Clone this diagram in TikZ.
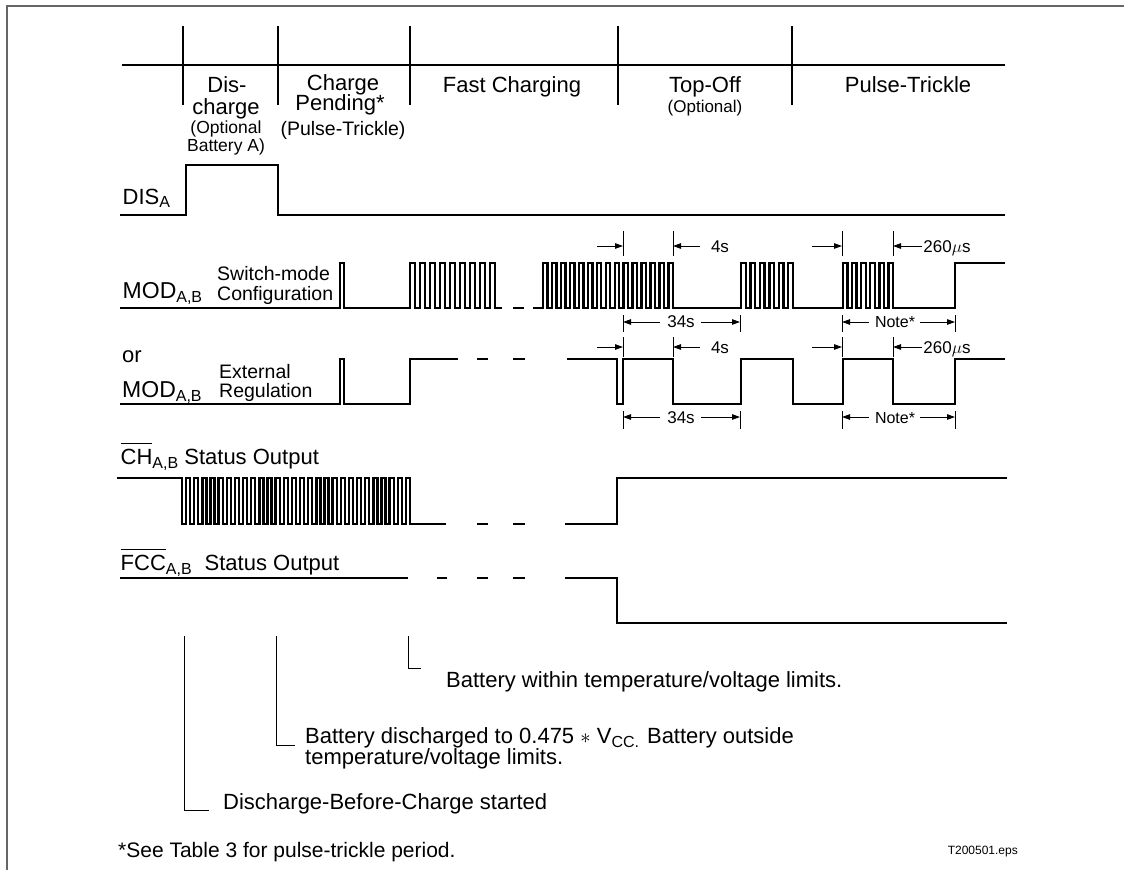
\documentclass[tikz,border=0pt]{standalone}
\usepackage{fontspec}
\setmainfont{Liberation Sans}
\usetikzlibrary{arrows.meta}
\newcommand{\fs}[1]{\fontsize{#1}{#1}\selectfont}
\newcommand{\lsub}[2][4pt]{\raisebox{-#1}{\fs{16}#2}}
\newcommand{\ovl}[1]{\leavevmode\vbox{\hrule height 1pt\kern 4.5pt\hbox{#1}}}
\begin{document}
\begin{tikzpicture}[x=1pt,y=-1pt,
  sig/.style={line width=2.4pt},
  frame/.style={line width=1.5pt, black!60},
  divl/.style={line width=1.2pt},
  tickl/.style={line width=1pt},
  dimar/.style={line width=1pt,-{Triangle[length=8pt,width=5.5pt]}},
  brk/.style={line width=1pt},
  hd/.style={anchor=base,inner sep=0pt,font=\fs{22}},
  hds/.style={anchor=base,inner sep=0pt,font=\fs{17.5}},
  lb/.style={anchor=base west,inner sep=0pt,font=\fs{22}},
  lbs/.style={anchor=base west,inner sep=0pt,font=\fs{19.5}},
  dm/.style={anchor=base,inner sep=0pt,font=\fs{17}},
  nt/.style={anchor=base west,inner sep=0pt,font=\fs{22}},
]
\useasboundingbox (0,0) rectangle (1124,870);
% frame
\draw[frame] (7,870) -- (7,6) -- (1124,6);
% header
\draw[sig] (122,65) -- (1005,65);
\foreach \x in {183,278,410,618,792} \draw[divl] (\x,26) -- (\x,105);
\node[hd] (h1a) at (227,92.5) {Dis-};
\node[hd] (h1b) at (226,114.5) {charge};
\node[hds] (h1c) at (226,133) {(Optional};
\node[hds] (h1d) at (226,151) {Battery A)};
\node[hd] (h2a) at (343,90) {Charge};
\node[hd] (h2b) at (340,110.5) {Pending*};
\node[hd,font=\fs{19.5}] (h2c) at (343,135) {(Pulse-Trickle)};
\node[hd] (h3) at (512,92) {Fast Charging};
\node[hd] (h4a) at (705,92) {Top-Off};
\node[hds,font=\fs{17}] (h4b) at (705,112) {(Optional)};
\node[hd] (h5) at (908,92) {Pulse-Trickle};
% DIS_A
\node[lb] (ldis) at (122.5,204) {DIS\lsub[3pt]{A}};
\draw[sig] (120,215) -- (186,215) -- (186,165) -- (278,165) -- (278,215) -- (1005,215);
% MOD switch-mode
\node[lb,font=\fs{23}] (lmod1) at (122.5,298) {MOD\lsub{A,B}};
\node[lbs] (lsw1) at (217,280) {Switch-mode};
\node[lbs] (lsw2) at (217,300) {Configuration};
\draw[sig] (120,308) -- (340,308) -- (340,263) -- (344,263) -- (344,308) -- (410,308)
  \foreach \i in {0,...,8} { -- ({410+10*\i},263) -- ({415+10*\i},263) -- ({415+10*\i},308) -- ({420+10*\i},308) }
  -- (502,308);
\draw[sig] (513,308) -- (524,308);
\draw[sig] (533,308) -- (543,308)
  \foreach \i in {0,...,14} { -- ({543+8.9655*\i},263) -- ({543+8.9655*(\i+0.5)},263) -- ({543+8.9655*(\i+0.5)},308) -- ({543+8.9655*(\i+1)},308) }
  -- (741,308)
  \foreach \i in {0,...,5} { -- ({741+9.4545*\i},263) -- ({741+9.4545*(\i+0.5)},263) -- ({741+9.4545*(\i+0.5)},308) -- ({741+9.4545*(\i+1)},308) }
  -- (843,308)
  \foreach \i in {0,...,5} { -- ({843+9.0909*\i},263) -- ({843+9.0909*(\i+0.5)},263) -- ({843+9.0909*(\i+0.5)},308) -- ({843+9.0909*(\i+1)},308) }
  -- (955,308) -- (955,263) -- (1005,263);
% dimensions above switch-mode
\foreach \x in {623,673,842,893} \draw[tickl] (\x,231) -- (\x,256);
\draw[dimar] (597,246) -- (623,246);
\draw[dimar] (700,246) -- (673,246);
\draw[dimar] (812,246) -- (842,246);
\draw[dimar] (922,246) -- (893,246);
\node[dm] (d4a) at (720,252) {4s};
\node[dm] (d260a) at (947,252) {260$\mu$s};
% dimensions below switch-mode
\foreach \x in {623,740,842,955} \draw[tickl] (\x,315) -- (\x,332);
\draw[dimar] (660,322) -- (623,322);
\draw[dimar] (701,322) -- (740,322);
\draw[dimar] (869,322) -- (842,322);
\draw[dimar] (920,322) -- (955,322);
\node[dm] (d34a) at (681,327) {34s};
\node[dm,font=\fs{16}] (dnta) at (895,327) {Note*};
% MOD external regulation
\node[lb] (lor) at (122,362) {or};
\node[lb,font=\fs{23}] (lmod2) at (122,397) {MOD\lsub{A,B}};
\node[lbs] (lex1) at (219,378) {External};
\node[lbs] (lex2) at (219,397) {Regulation};
\draw[sig] (120,404) -- (340,404) -- (340,359) -- (344,359) -- (344,404) -- (410,404) -- (410,359) -- (458,359);
\draw[sig] (477,359) -- (488,359);
\draw[sig] (513,359) -- (525,359);
\draw[sig] (567,359) -- (617,359) -- (617,404) -- (623,404) -- (623,359) -- (673,359) -- (673,404) -- (741,404) -- (741,359) -- (793,359) -- (793,404) -- (843,404) -- (843,359) -- (893,359) -- (893,404) -- (955,404) -- (955,359) -- (1005,359);
% dimensions above external
\foreach \x in {623,673,842,893} \draw[tickl] (\x,337) -- (\x,357);
\draw[dimar] (597,347) -- (623,347);
\draw[dimar] (700,347) -- (673,347);
\draw[dimar] (812,347) -- (842,347);
\draw[dimar] (922,347) -- (893,347);
\node[dm] (d4b) at (720,353) {4s};
\node[dm] (d260b) at (947,353) {260$\mu$s};
% dimensions below external
\foreach \x in {623,740,842,955} \draw[tickl] (\x,411) -- (\x,429);
\draw[dimar] (660,417) -- (623,417);
\draw[dimar] (701,417) -- (740,417);
\draw[dimar] (869,417) -- (842,417);
\draw[dimar] (920,417) -- (955,417);
\node[dm] (d34b) at (681,423) {34s};
\node[dm,font=\fs{16}] (dntb) at (895,423) {Note*};
% CH status
\node[lb] (lch) at (120.5,464) {\ovl{CH}\lsub{A,B} Status Output};
\draw[sig] (117,478) -- (182,478) -- (182,524)
  \foreach \i in {0,...,27} { -- ({182+8.1429*(\i+0.5)},524) -- ({182+8.1429*(\i+0.5)},478) -- ({182+8.1429*(\i+1)},478) -- ({182+8.1429*(\i+1)},524) }
  -- (446,524);
\draw[sig] (477,524) -- (488,524);
\draw[sig] (513,524) -- (525,524);
\draw[sig] (565,524) -- (617,524) -- (617,478) -- (1007,478);
% FCC status
\node[lb] (lfcc) at (120.5,570) {\ovl{FCC}\lsub{A,B}\hspace{13pt}Status Output};
\draw[sig] (120,578) -- (408,578);
\draw[sig] (437,578) -- (447,578);
\draw[sig] (477,578) -- (488,578);
\draw[sig] (513,578) -- (525,578);
\draw[sig] (565,578) -- (617,578) -- (617,623) -- (1007,623);
% bottom notes
\node[nt] (n1) at (446,687) {Battery within temperature/voltage limits.};
\node[nt] (n2) at (305,743) {Battery discharged to 0.475 $*$ V\lsub{CC.}\hspace{8pt}Battery outside};
\node[nt] (n3) at (305,764) {temperature/voltage limits.};
\node[nt] (n4) at (223,809) {Discharge-Before-Charge started};
\coordinate (v1) at (408,636);
\coordinate (v2) at (276,636);
\coordinate (v3) at (184,636);
\draw[brk] (v1) |- (421,668);
\draw[brk] (v2) |- (295,745);
\draw[brk] (v3) |- (209,810);
\node[nt,font=\fs{21}] (fn) at (118,857) {*See Table 3 for pulse-trickle period.};
\node[anchor=base east,inner sep=0pt,font=\fs{12}] (eps) at (1018,854) {T200501.eps};
\end{tikzpicture}
\end{document}
